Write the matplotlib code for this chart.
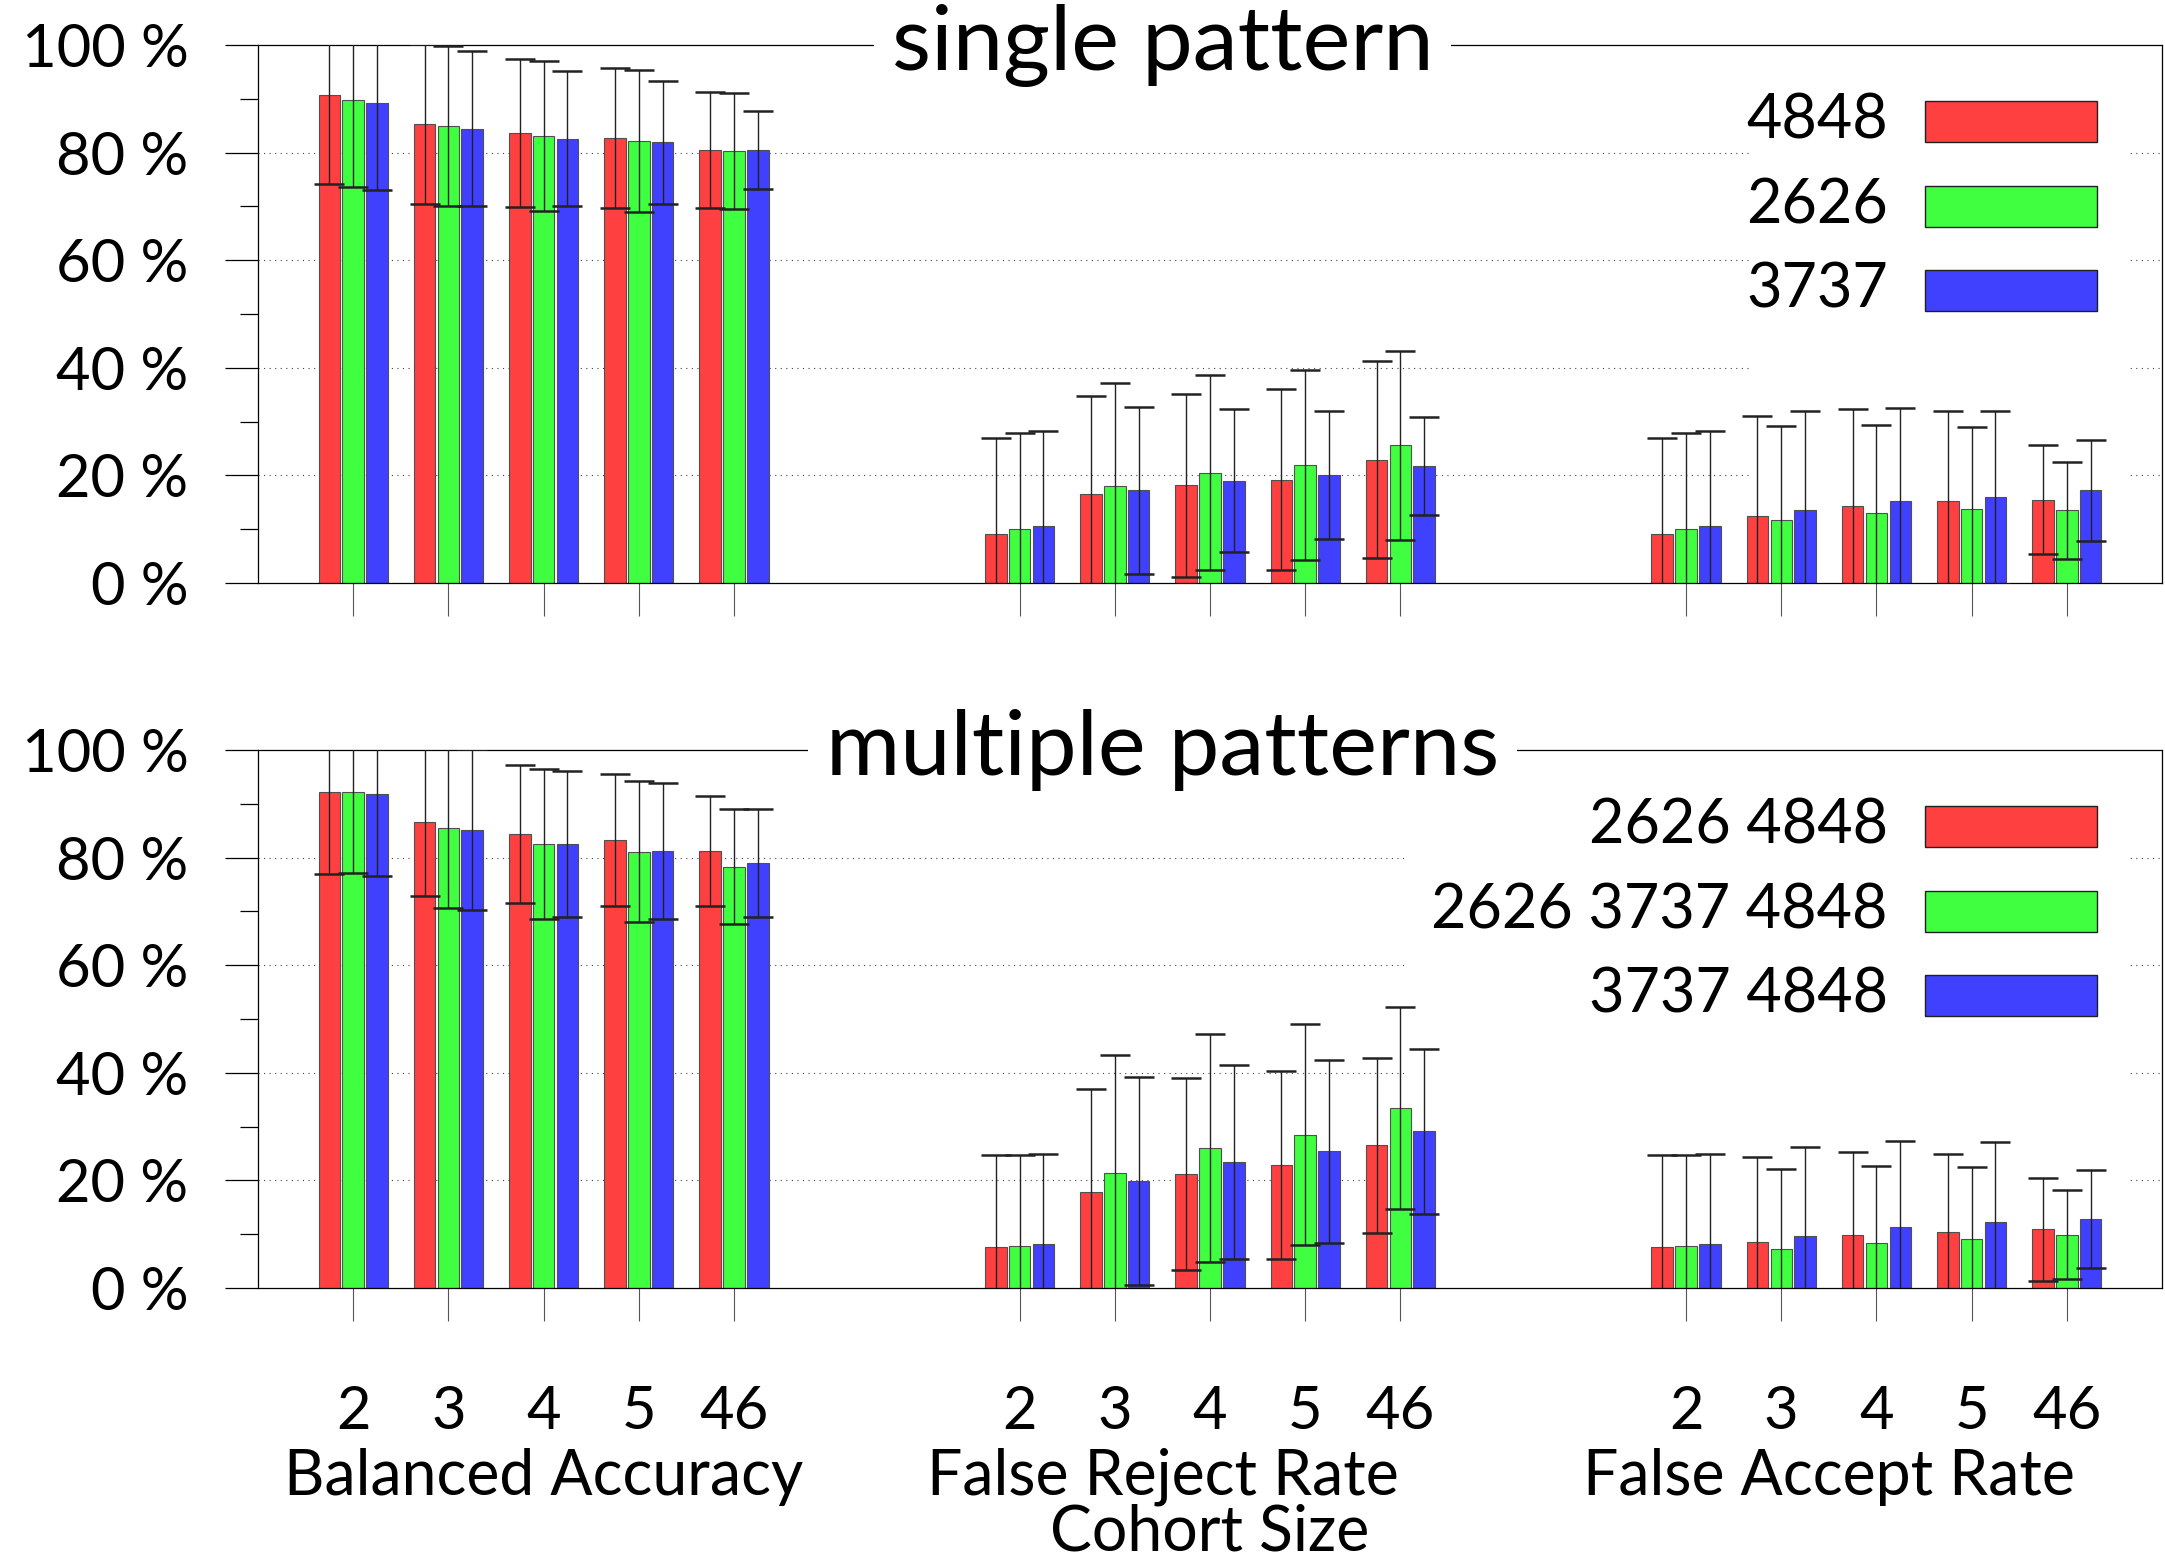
import numpy as np
import matplotlib.pyplot as plt
from matplotlib.patches import Rectangle
from matplotlib.transforms import blended_transform_factory

plt.rcParams['font.family'] = ['Lato', 'DejaVu Sans']

cohort_sizes = ['2', '3', '4', '5', '46']
metric_names = ['Balanced Accuracy', 'False Reject Rate', 'False Accept Rate']
single_labels = ['4848', '2626', '3737']
multi_labels = ['2626 4848', '2626 3737 4848', '3737 4848']

# rows: one per pattern set, columns: cohort sizes (values in %)
single_ba_mean = [[90.7, 85.3, 83.6, 82.7, 80.5],
                  [89.8, 84.9, 83.1, 82.1, 80.3],
                  [89.3, 84.4, 82.6, 81.9, 80.5]]
single_ba_std = [[16.5, 14.9, 13.8, 13.0, 10.8],
                 [16.2, 14.9, 14.0, 13.2, 10.7],
                 [16.2, 14.4, 12.6, 11.5, 7.2]]
single_frr_mean = [[9.2, 16.6, 18.2, 19.2, 22.9],
                   [10.1, 18.1, 20.5, 21.9, 25.6],
                   [10.6, 17.2, 19.0, 20.1, 21.7]]
single_frr_std = [[17.8, 18.1, 17.0, 16.8, 18.3],
                  [17.8, 19.0, 18.1, 17.7, 17.6],
                  [17.6, 15.5, 13.3, 11.9, 9.1]]
single_far_mean = [[9.2, 12.5, 14.4, 15.2, 15.5],
                   [10.1, 11.8, 13.1, 13.7, 13.5],
                   [10.6, 13.6, 15.3, 15.9, 17.2]]
single_far_std = [[17.8, 18.5, 17.9, 16.8, 10.1],
                  [17.8, 17.4, 16.3, 15.3, 9.0],
                  [17.6, 18.4, 17.2, 16.1, 9.4]]

multi_ba_mean = [[92.2, 86.6, 84.4, 83.3, 81.2],
                 [92.1, 85.5, 82.5, 81.1, 78.3],
                 [91.9, 85.2, 82.5, 81.2, 79.0]]
multi_ba_std = [[15.2, 13.7, 12.9, 12.3, 10.2],
                [15.0, 14.8, 14.0, 13.1, 10.7],
                [15.3, 14.9, 13.6, 12.6, 10.0]]
multi_frr_mean = [[7.7, 17.9, 21.2, 22.9, 26.5],
                  [7.8, 21.3, 26.1, 28.5, 33.5],
                  [8.1, 19.9, 23.4, 25.4, 29.1]]
multi_frr_std = [[17.0, 19.1, 17.9, 17.5, 16.2],
                 [17.0, 22.0, 21.2, 20.6, 18.8],
                 [16.8, 19.4, 18.1, 17.0, 15.4]]
multi_far_mean = [[7.7, 8.6, 9.8, 10.4, 10.9],
                  [7.8, 7.3, 8.4, 9.1, 9.9],
                  [8.1, 9.7, 11.3, 12.2, 12.8]]
multi_far_std = [[17.0, 15.8, 15.5, 14.5, 9.6],
                 [17.0, 14.8, 14.3, 13.4, 8.3],
                 [16.8, 16.6, 16.0, 15.0, 9.1]]

colors = ['#ff4040', '#40ff40', '#4040ff']
group_start = [0, 7, 14]
bar_shift = [-0.25, 0.0, 0.25]
bar_w = 0.225
FS = 43


def draw_panel(ax, means, stds, labels, title, key_left):
    ax.set_xlim(-1, 19)
    ax.set_ylim(0, 100)
    for y in [20, 40, 60, 80]:
        ax.axhline(y, color='#444444', lw=0.8, ls=(0, (1, 4)), zorder=0.5)
    # opaque key area sits over the grid but under the bars
    ax.add_patch(Rectangle((key_left, 0.12), 0.983 - key_left, 0.87,
                           transform=ax.transAxes, fc='white', ec='none', zorder=1))

    for g in range(3):
        xs = group_start[g] + np.arange(len(cohort_sizes))
        for s in range(3):
            x = xs + bar_shift[s]
            ax.bar(x, means[g][s], width=bar_w, color=colors[s],
                   edgecolor='#505050', lw=0.8, zorder=2)
            ax.errorbar(x, means[g][s], yerr=stds[g][s], fmt='none',
                        ecolor='#222222', elinewidth=1.0, capsize=11,
                        capthick=1.8, zorder=3)

    ticks = [g + i for g in group_start for i in range(len(cohort_sizes))]
    ax.set_xticks(ticks)
    ax.set_xticklabels([])
    ax.set_yticks(range(0, 101, 20))
    ax.set_yticklabels([f'{v} %' for v in range(0, 101, 20)], fontsize=FS)
    ax.set_yticks(range(10, 100, 20), minor=True)
    ax.tick_params(axis='y', which='major', length=24, width=0.9, pad=26)
    ax.tick_params(axis='y', which='minor', length=13, width=0.9)
    ax.tick_params(axis='x', which='major', length=24, width=0.8, color='#555555')
    for sp in ax.spines.values():
        sp.set_linewidth(0.9)

    ax.text(8.5, 100, title, fontsize=65, ha='center', va='center',
            bbox=dict(boxstyle='square,pad=0.2', fc='white', ec='none'),
            zorder=6, clip_on=False)

    # key: label to the left, colour swatch to the right
    for i, (lab, c) in enumerate(zip(labels, colors)):
        yc = [0.858, 0.7007, 0.5437][i]
        ax.add_patch(Rectangle((0.8755, yc - 0.0381), 0.0903, 0.0762,
                               transform=ax.transAxes, fc=c, ec='#202020',
                               lw=1.0, zorder=6))
        ax.text(0.856, yc, lab, fontsize=FS + 1, ha='right', va='center',
                transform=ax.transAxes, zorder=6)


fig = plt.figure(figsize=(21.65, 15.62), dpi=100)
ax_top = fig.add_axes([0.11917, 0.62676, 0.87945, 0.34443])
ax_bot = fig.add_axes([0.11917, 0.17542, 0.87945, 0.34443])

draw_panel(ax_top,
           [single_ba_mean, single_frr_mean, single_far_mean],
           [single_ba_std, single_frr_std, single_far_std],
           single_labels, 'single pattern', 0.784)
draw_panel(ax_bot,
           [multi_ba_mean, multi_frr_mean, multi_far_mean],
           [multi_ba_std, multi_frr_std, multi_far_std],
           multi_labels, 'multiple patterns', 0.6025)

# cohort size and metric labels under the lower panel
trans = blended_transform_factory(ax_bot.transData, ax_bot.transAxes)
for g in group_start:
    for i, lab in enumerate(cohort_sizes):
        ax_bot.text(g + i, -0.262, lab, fontsize=FS, ha='center',
                    va='baseline', transform=trans)
for x, name in zip([2.0, 8.5, 15.5], metric_names):
    ax_bot.text(x, -0.384, name, fontsize=45, ha='center',
                va='baseline', transform=trans)
ax_bot.text(9.0, -0.488, 'Cohort Size', fontsize=45, ha='center',
            va='baseline', transform=trans)

fig.savefig('out.png', dpi=100)
